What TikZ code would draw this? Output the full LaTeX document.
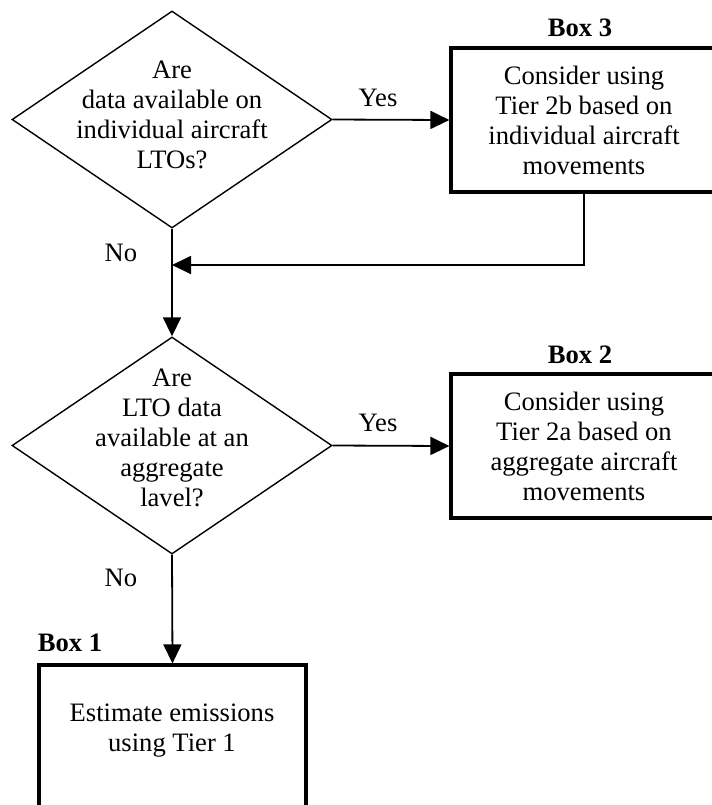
\documentclass[tikz,border=0pt]{standalone}
\usepackage{fontspec}
\setmainfont{Liberation Serif}
\usetikzlibrary{arrows.meta,shapes.geometric}
\begin{document}
\begin{tikzpicture}[x=0.5pt,y=-0.5pt,
  every node/.style={font=\fontsize{13.3}{15}\selectfont},
  dec/.style={diamond, draw, line width=0.7pt, inner sep=0pt, minimum width=160pt, minimum height=108.5pt},
  box/.style={rectangle, draw, line width=1.6pt, inner sep=0pt, minimum width=133pt, minimum height=72pt, align=center},
  txt/.style={align=center, inner sep=0pt},
  lbl/.style={inner sep=0pt, font=\fontsize{13.3}{15}\selectfont\bfseries},
  conn/.style={line width=0.9pt, -{Triangle[length=9.5pt,width=9pt]}}
]
\useasboundingbox (0,0) rectangle (712,805);
\clip (0,0) rectangle (712,805);

\node[dec] (d1) at (172,119.5) {};
\node[txt] (t1) at (172,115) {Are\\data available on\\individual aircraft\\LTOs?};
\node[box] (b3) at (584,120) {Consider using\\Tier 2b based on\\individual aircraft\\movements};
\node[lbl] (l3) at (580,28) {Box 3};

\node[dec] (d2) at (172,445.5) {};
\node[txt] (t2) at (172,438) {Are\\LTO data\\available at an\\aggregate\\lavel?};
\node[box] (b2) at (584,446) {Consider using\\Tier 2a based on\\aggregate aircraft\\movements};
\node[lbl] (l2) at (580,355) {Box 2};

\node[box, minimum width=133.5pt] (b1) at (172.5,737) {};
\node[txt] (t3) at (172,731) {Estimate emissions\\using Tier 1};
\node[lbl] (l1) at (70,643) {Box 1};

\node[txt] (y1) at (378,98) {Yes};
\node[txt] (y2) at (378,423) {Yes};
\node[txt] (n1) at (121,253) {No};
\node[txt] (n2) at (121,578) {No};

\coordinate (j) at (172,265);
\draw[conn] (d1.east) -- (b3.west);
\draw[conn] (d1.south) -- (d2.north);
\draw[conn] (d2.east) -- (b2.west);
\draw[conn] (d2.south) -- (b1.north);
\draw[conn] (b3.south) |- (j);
\end{tikzpicture}
\end{document}
